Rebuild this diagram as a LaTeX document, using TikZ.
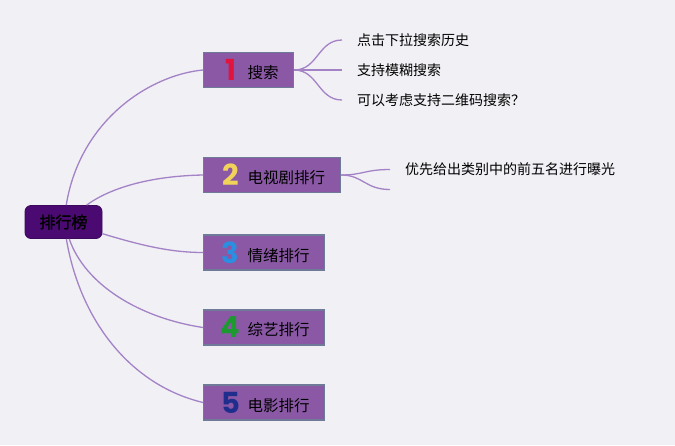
\documentclass[tikz,border=0pt]{standalone}
\usepackage{fontspec}
\setmainfont{Noto Sans CJK SC}
\newfontfamily\rootfont{Noto Sans CJK SC}[FakeBold=1.6]
\newfontfamily\numfont{Poppins}
\usepackage{tikz}
\usepackage{xcolor}

\definecolor{bggray}{HTML}{F1F0F5}
\definecolor{rootpurple}{HTML}{4B0A72}
\definecolor{boxpurple}{HTML}{8A58A5}
\definecolor{boxline}{HTML}{6F7A98}
\definecolor{linepurple}{HTML}{A382C6}
\definecolor{numred}{HTML}{E0143C}
\definecolor{numyellow}{HTML}{F2D35A}
\definecolor{numblue}{HTML}{2A8FE0}
\definecolor{numgreen}{HTML}{1C9A30}
\definecolor{numnavy}{HTML}{1F2D8C}

% number + label inside a branch box
\newcommand{\branchtext}[4]{\makebox[#1][l]{\hspace{19pt}\makebox[16pt][c]{\numfont\bfseries\fontsize{29}{30}\selectfont\color{#2}#3}\hspace{9pt}\raisebox{2pt}{#4}}}

\tikzset{
  rootbox/.style={draw=rootpurple!80!black, fill=rootpurple, rounded corners=6pt, line width=0.8pt,
    minimum width=77pt, minimum height=33pt, inner sep=0pt, font=\rootfont\fontsize{16}{18}\selectfont},
  branch/.style={draw=boxline, fill=boxpurple, line width=1.1pt, anchor=west,
    minimum height=35pt, inner sep=0pt, font=\fontsize{15.5}{18}\selectfont},
  leaf/.style={anchor=west, inner xsep=15pt, inner ysep=2pt, font=\fontsize{14}{16}\selectfont},
  edge/.style={draw=linepurple, line width=1.3pt}
}

\begin{document}
\begin{tikzpicture}[x=1pt, y=-1pt]
    % Background
    \fill[bggray] (0,0) rectangle (675,445);
    \useasboundingbox (0,0) rectangle (675,445);

    % Root
    \node[rootbox] (root) at (63.5,222) {排行榜};

    % Branches
    \node[branch] (search) at (203,70) {\branchtext{90pt}{numred}{1}{搜索}};
    \node[branch] (tv) at (203,175) {\branchtext{137pt}{numyellow}{2}{电视剧排行}};
    \node[branch] (mood) at (203,252.5) {\branchtext{121pt}{numblue}{3}{情绪排行}};
    \node[branch] (show) at (203,327.5) {\branchtext{121pt}{numgreen}{4}{综艺排行}};
    \node[branch] (movie) at (203,402.5) {\branchtext{121pt}{numnavy}{5}{电影排行}};

    % Leaves
    \node[leaf] (history) at (342,40) {点击下拉搜索历史};
    \node[leaf] (fuzzy) at (342,70) {支持模糊搜索};
    \node[leaf] (qrcode) at (342,100) {可以考虑支持二维码搜索？};
    \node[leaf] (topfive) at (390,169.5) {优先给出类别中的前五名进行曝光};
    \coordinate (tvempty) at (390,189.5);

    % Root to branches
    \draw[edge] (root) .. controls (80,120) and (150,75) .. (search.west);
    \draw[edge] (root) .. controls (110,188) and (150,176) .. (tv.west);
    \draw[edge] (root) .. controls (140,245) and (170,252.5) .. (mood.west);
    \draw[edge] (root) .. controls (85,285) and (140,318) .. (show.west);
    \draw[edge] (root) .. controls (80,320) and (130,385) .. (movie.west);

    % Branches to leaves
    \draw[edge] (search.east) .. controls (318,70) and (318,40) .. (history.west);
    \draw[edge] (search.east) -- (fuzzy.west);
    \draw[edge] (search.east) .. controls (318,70) and (318,100) .. (qrcode.west);
    \draw[edge] (tv.east) .. controls (363,175) and (365,169.5) .. (topfive.west);
    \draw[edge] (tv.east) .. controls (363,175) and (365,189.5) .. (tvempty);
\end{tikzpicture}
\end{document}
